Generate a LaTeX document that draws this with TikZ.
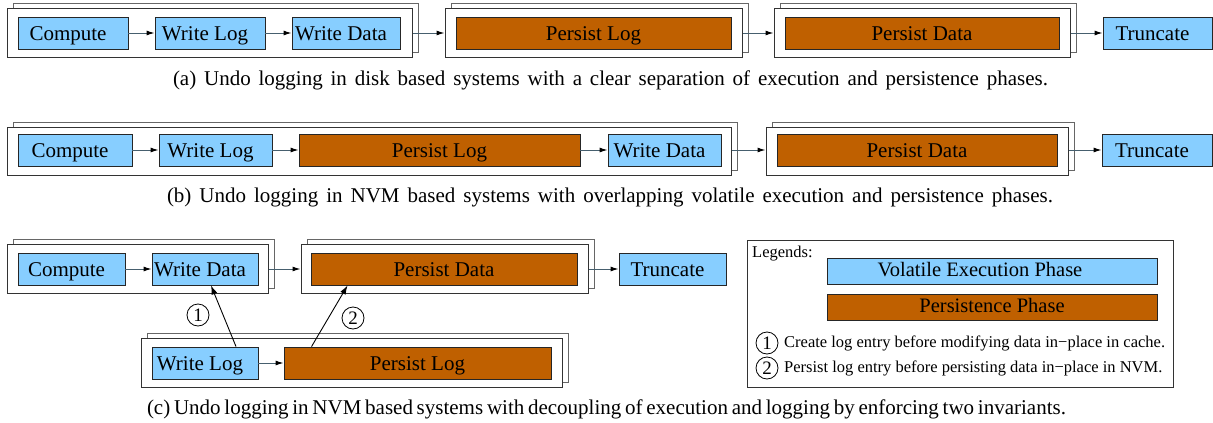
\documentclass[tikz,border=0pt]{standalone}
\usepackage{fontspec}
\setmainfont{Liberation Serif}
\usetikzlibrary{arrows.meta,calc}
\definecolor{volblue}{RGB}{135,206,255}
\definecolor{perbrown}{RGB}{191,96,0}
\definecolor{arrline}{RGB}{70,95,110}
\newcommand{\boxfont}{\rmfamily\fontsize{21pt}{24pt}\selectfont}
\newcommand{\capfont}{\rmfamily\fontsize{21pt}{24pt}\selectfont}
\newcommand{\legfont}{\rmfamily\fontsize{16.5pt}{19pt}\selectfont}
\begin{document}
\begin{tikzpicture}[x=1pt,y=-1pt,
  vbox/.style={draw=black!85, fill=volblue, line width=0.9pt, inner sep=0pt, font=\boxfont, minimum height=32pt, text height=14pt, text depth=0pt, execute at end node={\hspace*{10pt}}},
  pbox/.style={draw=black!85, fill=perbrown, line width=0.9pt, inner sep=0pt, font=\boxfont, minimum height=32pt, text height=14pt, text depth=0pt},
  legbox/.style={minimum width=330pt, minimum height=26pt, text height=10pt, text depth=0pt, font=\rmfamily\fontsize{20.5pt}{23pt}\selectfont},
  frontframe/.style={draw=black!80, fill=white, line width=1pt, inner sep=0pt, minimum height=49pt},
  backframe/.style={draw=black!60, fill=white, line width=1pt, inner sep=0pt, minimum height=49pt},
  flow/.style={draw=arrline, line width=1pt, -{Latex[length=8pt,width=5pt,black]}},
  dep/.style={draw=black, line width=0.9pt, -{Latex[length=9pt,width=6pt,black]}},
  numcirc/.style={circle, draw=black, line width=0.8pt, inner sep=0pt, minimum size=22pt, font=\rmfamily\fontsize{19pt}{21pt}\selectfont},
  capt/.style={inner sep=0pt, anchor=base, font=\capfont}
]
\useasboundingbox (0,0) rectangle (1213,423);

% ---------------- Row (a) ----------------
\node[backframe, minimum width=405pt] (aF1b) at (215.5,27.5) {};
\node[frontframe, minimum width=405pt] (aF1) at (209.5,32.5) {};
\node[vbox, minimum width=110pt] (aC) at (73,33) {Compute};
\node[vbox, minimum width=110pt] (aWL) at (210,33) {Write Log};
\node[vbox, minimum width=108pt] (aWD) at (346,33) {Write Data};

\node[backframe, minimum width=297pt] (aF2b) at (599.5,27.5) {};
\node[frontframe, minimum width=297pt] (aF2) at (593.5,32.5) {};
\node[pbox, minimum width=275pt] (aPL) at (593.5,33) {Persist Log};

\node[backframe, minimum width=296pt] (aF3b) at (928,27.5) {};
\node[frontframe, minimum width=296pt] (aF3) at (922,32.5) {};
\node[pbox, minimum width=274pt] (aPD) at (922,33) {Persist Data};

\node[vbox, minimum width=109pt] (aT) at (1157.5,33) {Truncate};

\draw[flow] (aC) -- (aWL);
\draw[flow] (aWL) -- (aWD);
\draw[flow] (aF1.east |- aWD) -- (aF2.west |- aWD);
\draw[flow] (aF2.east |- aPL) -- (aF3.west |- aPL);
\draw[flow] (aF3.east |- aPD) -- (aT);

\node[capt] (capa) at (610.5,85) {\makebox[875pt][s]{(a) Undo logging in disk based systems with a clear separation of execution and persistence phases.}};

% ---------------- Row (b) ----------------
\node[backframe, minimum width=724pt, minimum height=48pt] (bF1b) at (375,146) {};
\node[frontframe, minimum width=724pt, minimum height=48pt] (bF1) at (369,151) {};
\node[vbox, minimum width=114pt] (bC) at (75,150) {Compute};
\node[vbox, minimum width=113pt] (bWL) at (215.5,150) {Write Log};
\node[pbox, minimum width=281pt] (bPL) at (439.5,150) {Persist Log};
\node[vbox, minimum width=113pt] (bWD) at (664.5,150) {Write Data};

\node[backframe, minimum width=302pt, minimum height=48pt] (bF2b) at (923,146) {};
\node[frontframe, minimum width=302pt, minimum height=48pt] (bF2) at (917,151) {};
\node[pbox, minimum width=280pt] (bPD) at (917,150) {Persist Data};

\node[vbox, minimum width=110pt] (bT) at (1157,150) {Truncate};

\draw[flow] (bC) -- (bWL);
\draw[flow] (bWL) -- (bPL);
\draw[flow] (bPL) -- (bWD);
\draw[flow] (bF1.east |- bWD) -- (bF2.west |- bWD);
\draw[flow] (bF2.east |- bPD) -- (bT);

\node[capt] (capb) at (610,202) {\makebox[886pt][s]{(b) Undo logging in NVM based systems with overlapping volatile execution and persistence phases.}};

% ---------------- Row (c) ----------------
\node[backframe, minimum width=261pt] (cF1b) at (143.5,263.5) {};
\node[frontframe, minimum width=261pt] (cF1) at (137.5,268.5) {};
\node[vbox, minimum width=107pt] (cC) at (71.5,269) {Compute};
\node[vbox, minimum width=106pt] (cWD) at (205,269) {Write Data};

\node[backframe, minimum width=287pt] (cF2b) at (450.5,263.5) {};
\node[frontframe, minimum width=287pt] (cF2) at (444.5,268.5) {};
\node[pbox, minimum width=266pt] (cPD) at (444,269) {Persist Data};

\node[vbox, minimum width=107pt] (cT) at (672.5,269) {Truncate};

\node[backframe, minimum width=421pt] (cF3b) at (357.5,357.5) {};
\node[frontframe, minimum width=421pt] (cF3) at (351.5,362.5) {};
\node[vbox, minimum width=106pt] (cWL) at (205,363) {Write Log};
\node[pbox, minimum width=267pt] (cPL) at (417.5,363) {Persist Log};

\draw[flow] (cC) -- (cWD);
\draw[flow] (cF1.east |- cWD) -- (cF2.west |- cWD);
\draw[flow] (cF2.east |- cPD) -- (cT);
\draw[flow] (cWL) -- (cPL);

\draw[dep] ($(cWL.north)+(31,0)$) -- ($(cWD.south)+(6,0)$);
\draw[dep] ($(cPL.north west)+(28,0)$) -- ($(cPD.south west)+(37,0)$);
\node[numcirc] (n1) at (198,315) {1};
\node[numcirc] (n2) at (353,318) {2};

% ---------------- Legend ----------------
\node[draw=black!80, line width=1pt, fill=white, minimum width=426pt, minimum height=147pt, inner sep=0pt] (leg) at (960,313.5) {};
\node[anchor=west, inner sep=0pt, font=\legfont] (legt) at (752,254) {Legends:};
\node[vbox, legbox, execute at end node={\hspace*{14pt}}] (lV) at (992,271) {Volatile Execution Phase};
\node[pbox, legbox] (lP) at (992,307) {Persistence Phase};
\node[numcirc] (l1) at (767,343) {1};
\node[anchor=west, inner sep=0pt, font=\legfont] (l1t) at (784,343) {Create log entry before modifying data in−place in cache.};
\node[numcirc] (l2) at (767,368) {2};
\node[anchor=west, inner sep=0pt, font=\legfont] (l2t) at (784,368) {Persist log entry before persisting data in−place in NVM.};

\node[capt] (capc) at (606.5,414) {\makebox[919pt][s]{(c) Undo logging in NVM based systems with decoupling of execution and logging by enforcing two invariants.}};
\end{tikzpicture}
\end{document}
